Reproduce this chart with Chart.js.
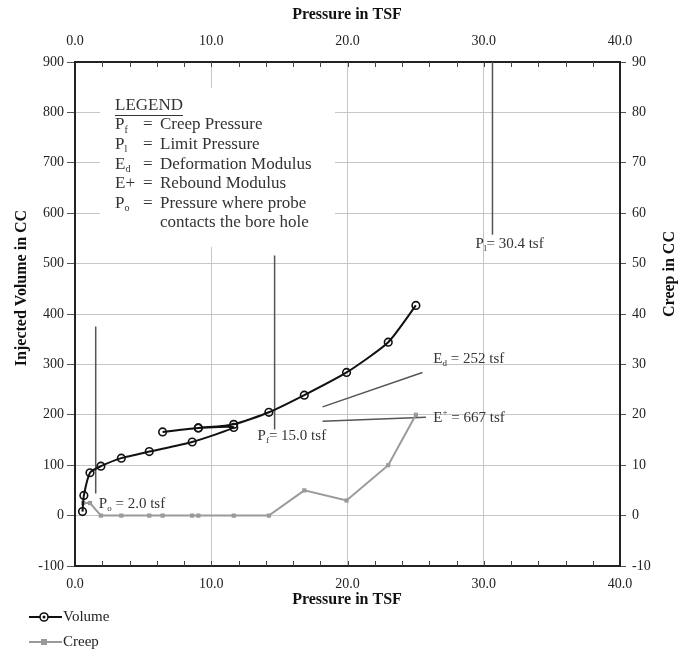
<!DOCTYPE html>
<html><head><meta charset="utf-8">
<script src="https://cdn.jsdelivr.net/npm/chart.js@4.4.0/dist/chart.umd.min.js"></script>
<style>html,body{margin:0;padding:0;background:#fff}#wrap{width:688px;height:654px;position:relative}</style>
</head><body><div id="wrap"><canvas id="c" width="688" height="654"></canvas></div>
<script>
// ---- data ----
const pressureTicks = [0, 10, 20, 30, 40];
const volumeTicks = [-100, 0, 100, 200, 300, 400, 500, 600, 700, 800, 900];
const creepTicks = [-10, 0, 10, 20, 30, 40, 50, 60, 70, 80, 90];

const volPressure = [0.55, 0.65, 1.1, 1.9, 3.4, 5.45, 8.6, 11.65, 9.05, 6.43, 9.05, 11.65, 14.23, 16.83, 19.93, 22.99, 25.02];
const volume      = [8, 40, 85, 98, 114, 127, 146, 175, 174, 166, 174, 181, 205, 239, 284, 344, 417];

const creepPressure = [0.6, 1.1, 1.9, 3.4, 5.45, 6.43, 8.6, 9.05, 11.65, 14.23, 16.83, 19.93, 22.99, 25.02];
const creep         = [2.5, 2.5, 0, 0, 0, 0, 0, 0, 0, 0, 5, 3, 10, 20];

// reference lines (Po, Pf, Pl, Ed, E+)
const refNames = ['Po', 'Pf', 'Pl', 'Ed', 'E+'];
const refX1 = [1.52, 14.65, 30.64, 18.17, 18.17];
const refY1 = [375, 516, 900, 215.7, 187];
const refX2 = [1.52, 14.65, 30.64, 25.5, 25.75];
const refY2 = [44, 171, 557, 284, 195];

// annotation labels [main, sub/sup, rest] with anchor (pressure, volume)
const annMain = ['P', 'P', 'P', 'E', 'E'];
const annSub  = ['o', 'f', 'l', 'd', '+'];
const annRest = [' = 2.0 tsf', '= 15.0 tsf', '= 30.4 tsf', ' = 252 tsf', ' = 667 tsf'];
const annX = [1.75, 13.4, 29.4, 26.3, 26.3];
const annY = [22, 157, 538, 311, 194];

const legendSym  = [['P','f'], ['P','l'], ['E','d'], ['E+',''], ['P','o'], ['','']];
const legendText = ['Creep Pressure', 'Limit Pressure', 'Deformation Modulus', 'Rebound Modulus', 'Pressure where probe', 'contacts the bore hole'];

const SERIF = '"Liberation Serif", "Times New Roman", serif';

function pts(xs, ys) { return xs.map((x, i) => ({x: x, y: ys[i]})); }

const datasets = [
  {label: 'Volume', data: pts(volPressure, volume), xAxisID: 'x', yAxisID: 'y',
   showLine: true, borderColor: '#111', borderWidth: 2, tension: 0.2,
   pointStyle: 'circle', pointRadius: 3.8, pointBorderWidth: 1.6, pointBorderColor: '#111',
   pointBackgroundColor: 'rgba(255,255,255,0)'},
  {label: 'Creep', data: pts(creepPressure, creep), xAxisID: 'x', yAxisID: 'y2',
   showLine: true, borderColor: '#9a9a9a', borderWidth: 2, tension: 0,
   pointStyle: 'rect', pointRadius: 3, pointBorderWidth: 0, pointBackgroundColor: '#9a9a9a'}
];
refNames.forEach((n, i) => {
  datasets.push({label: n, data: [{x: refX1[i], y: refY1[i]}, {x: refX2[i], y: refY2[i]}],
    xAxisID: 'x', yAxisID: 'y', showLine: true, borderColor: '#555', borderWidth: 1.5,
    pointRadius: 0, tension: 0});
});

function subText(ctx, x, y, main, sub, rest, size, sup) {
  ctx.font = size + 'px ' + SERIF;
  ctx.fillText(main, x, y);
  let w = ctx.measureText(main).width;
  if (sub) {
    ctx.font = Math.round(size * 0.6) + 'px ' + SERIF;
    ctx.fillText(sub, x + w, y + (sup ? -size * 0.35 : size * 0.3));
    w += ctx.measureText(sub).width;
  }
  ctx.font = size + 'px ' + SERIF;
  ctx.fillText(rest, x + w, y);
}

const deco = {
  id: 'deco',
  beforeDatasetsDraw(chart) {
    const ctx = chart.ctx;
    ctx.save();
    // legend text box
    ctx.fillStyle = '#fff';
    ctx.fillRect(100, 88, 235, 159);
    ctx.fillStyle = '#333';
    ctx.textBaseline = 'middle';
    ctx.textAlign = 'left';
    ctx.font = '17px ' + SERIF;
    ctx.fillText('LEGEND', 115, 106);
    const lw = ctx.measureText('LEGEND').width;
    ctx.strokeStyle = '#333'; ctx.lineWidth = 1;
    ctx.beginPath(); ctx.moveTo(115, 115.5); ctx.lineTo(115 + lw, 115.5); ctx.stroke();
    legendText.forEach((t, i) => {
      const y = 125 + i * 19.6;
      const s = legendSym[i];
      if (s[0]) subText(ctx, 115, y, s[0], s[1], '', 17, false);
      ctx.font = '17px ' + SERIF;
      if (s[0]) ctx.fillText('=', 143, y);
      ctx.fillText(t, 160, y);
    });
    // minor ticks on top/bottom
    const xs = chart.scales.x, a = chart.chartArea;
    ctx.strokeStyle = '#444'; ctx.lineWidth = 1;
    for (let v = 2; v < 40; v += 2) {
      const px = Math.round(xs.getPixelForValue(v)) + 0.5;
      ctx.beginPath();
      ctx.moveTo(px, a.top); ctx.lineTo(px, a.top + 5);
      ctx.moveTo(px, a.bottom); ctx.lineTo(px, a.bottom - 5);
      ctx.stroke();
    }
    ctx.restore();
  },
  afterDraw(chart) {
    const ctx = chart.ctx;
    const xs = chart.scales.x, ys = chart.scales.y;
    ctx.save();
    ctx.fillStyle = '#333';
    ctx.textBaseline = 'middle';
    ctx.textAlign = 'left';
    annMain.forEach((m, i) => {
      subText(ctx, xs.getPixelForValue(annX[i]), ys.getPixelForValue(annY[i]), m, annSub[i], annRest[i], 15, i === 4);
    });
    // axis titles
    ctx.fillStyle = '#111';
    ctx.font = 'bold 16px ' + SERIF;
    ctx.textAlign = 'center';
    ctx.fillText('Pressure in TSF', 347, 15);
    ctx.fillText('Pressure in TSF', 347, 600);
    ctx.save(); ctx.translate(22, 288); ctx.rotate(-Math.PI / 2);
    ctx.fillText('Injected Volume in CC', 0, 0); ctx.restore();
    ctx.save(); ctx.translate(670, 274); ctx.rotate(-Math.PI / 2);
    ctx.fillText('Creep in CC', 0, 0); ctx.restore();
    // bottom legend
    ctx.textAlign = 'left';
    ctx.font = '15px ' + SERIF;
    ctx.fillStyle = '#222';
    // Volume
    ctx.strokeStyle = '#111'; ctx.lineWidth = 2;
    ctx.beginPath(); ctx.moveTo(29, 617); ctx.lineTo(62, 617); ctx.stroke();
    ctx.lineWidth = 1.6; ctx.fillStyle = '#fff';
    ctx.beginPath(); ctx.arc(44, 617, 4, 0, Math.PI * 2); ctx.fill(); ctx.stroke();
    ctx.fillStyle = '#111'; ctx.beginPath(); ctx.arc(44, 617, 1.5, 0, Math.PI * 2); ctx.fill();
    ctx.fillStyle = '#222';
    ctx.fillText(datasets[0].label, 63, 617);
    // Creep
    ctx.strokeStyle = '#9a9a9a'; ctx.lineWidth = 2;
    ctx.beginPath(); ctx.moveTo(29, 642); ctx.lineTo(62, 642); ctx.stroke();
    ctx.fillStyle = '#9a9a9a'; ctx.fillRect(41, 639, 6, 6);
    ctx.fillStyle = '#222';
    ctx.fillText(datasets[1].label, 63, 642);
    ctx.restore();
  }
};

const tickFont = {family: SERIF, size: 14};
const gridColor = '#c6c6c6';
const borderCfg = {display: true, color: '#222', width: 2};

new Chart(document.getElementById('c'), {
  type: 'scatter',
  data: {datasets: datasets},
  options: {
    responsive: false,
    animation: false,
    layout: {padding: 0},
    plugins: {legend: {display: false}, tooltip: {enabled: false}},
    scales: {
      x: {type: 'linear', position: 'bottom', min: 0, max: 40,
          afterFit: s => { s.height = 88; },
          afterBuildTicks: s => { s.ticks = pressureTicks.map(v => ({value: v})); },
          ticks: {font: tickFont, color: '#222', padding: 10, callback: v => Number(v).toFixed(1), maxRotation: 0},
          grid: {color: gridColor, lineWidth: 1, drawTicks: false},
          border: borderCfg},
      x2: {type: 'linear', axis: 'x', position: 'top', min: 0, max: 40,
          afterFit: s => { s.height = 62; },
          afterBuildTicks: s => { s.ticks = pressureTicks.map(v => ({value: v})); },
          ticks: {font: tickFont, color: '#222', padding: 12, callback: v => Number(v).toFixed(1), maxRotation: 0},
          grid: {drawOnChartArea: false, drawTicks: false},
          border: borderCfg},
      y: {type: 'linear', position: 'left', min: -100, max: 900,
          afterFit: s => { s.width = 75; },
          afterBuildTicks: s => { s.ticks = volumeTicks.map(v => ({value: v})); },
          ticks: {font: tickFont, color: '#222', padding: 3},
          grid: {color: gridColor, lineWidth: 1, tickLength: 8, tickColor: '#555'},
          border: borderCfg},
      y2: {type: 'linear', axis: 'y', position: 'right', min: -10, max: 90,
          afterFit: s => { s.width = 68; },
          afterBuildTicks: s => { s.ticks = creepTicks.map(v => ({value: v})); },
          ticks: {font: tickFont, color: '#222', padding: 6},
          grid: {drawOnChartArea: false, tickLength: 6, tickColor: '#555'},
          border: borderCfg}
    }
  },
  plugins: [deco]
});
</script>
</body></html>
